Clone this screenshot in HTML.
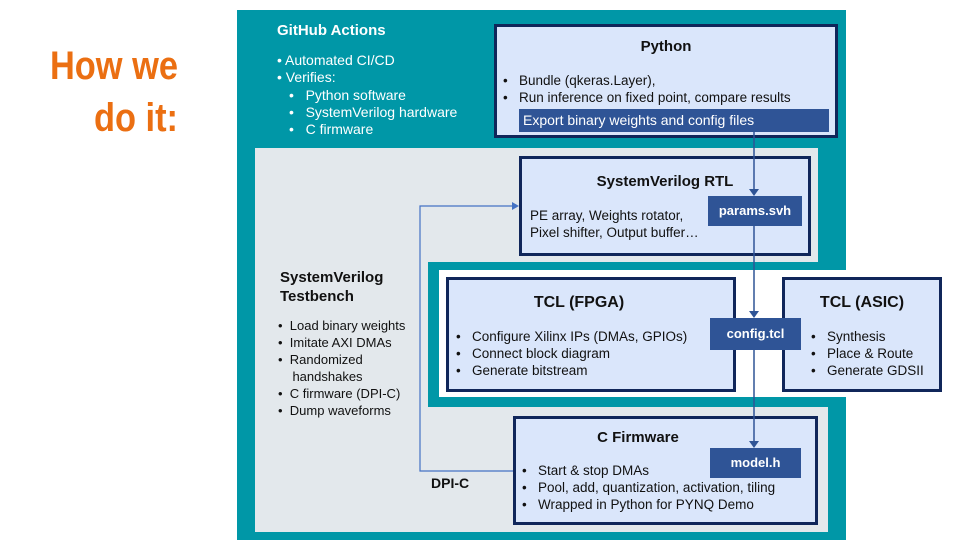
<!DOCTYPE html>
<html><head><meta charset="utf-8"><style>
body{margin:0;width:960px;height:540px;background:#fff;position:relative;overflow:hidden;font-family:"Liberation Sans",Arial,sans-serif;}
div{position:absolute;box-sizing:border-box;}
.box{background:#dae6fb;border:3px solid #10265a;}
.lab{background:#2f5496;color:#fff;font-weight:bold;font-size:13px;text-align:center;}
.t{font-size:13.5px;color:#111;line-height:17px;white-space:nowrap;}
.w{color:#fff;font-size:14px;line-height:17px;white-space:nowrap;}
.h{font-weight:bold;font-size:15px;color:#111;text-align:center;}
</style></head><body>
<div style="left:0px;top:40px;width:178px;text-align:right;color:#eb6f12;font-weight:bold;font-size:40px;line-height:52px;white-space:nowrap;transform:scaleX(0.86);transform-origin:right top;">How we<br>do it:</div>

<div style="left:237px;top:10px;width:609px;height:530px;background:#0097a7;"></div>
<div style="left:255px;top:148px;width:563px;height:384px;background:#e3e8ec;"></div>
<div style="left:255px;top:407px;width:573px;height:125px;background:#e3e8ec;"></div>
<div style="left:428px;top:262px;width:418px;height:145px;background:#0097a7;"></div>
<div style="left:439px;top:270px;width:407px;height:127px;background:#fff;"></div>

<div class="w" style="left:277px;top:22px;font-weight:bold;font-size:15px;">GitHub Actions</div>
<div class="w" style="left:277px;top:52px;">• Automated CI/CD<br>• Verifies:</div>
<div class="w" style="left:289px;top:87px;">•&nbsp;&nbsp; Python software<br>•&nbsp;&nbsp; SystemVerilog hardware<br>•&nbsp;&nbsp; C firmware</div>

<div class="box" style="left:494px;top:24px;width:344px;height:114px;"></div>
<div class="h" style="left:494px;top:38px;width:344px;">Python</div>
<div class="t" style="left:503px;top:72px;">•&nbsp;&nbsp; Bundle (qkeras.Layer),<br>•&nbsp;&nbsp; Run inference on fixed point, compare results</div>
<div style="left:519px;top:109px;width:310px;height:23px;background:#2f5496;color:#fff;font-size:14px;line-height:23px;padding-left:4px;">Export binary weights and config files</div>

<div class="box" style="left:519px;top:156px;width:292px;height:100px;"></div>
<div class="h" style="left:519px;top:173px;width:292px;">SystemVerilog RTL</div>
<div class="t" style="left:530px;top:207px;">PE array, Weights rotator,<br>Pixel shifter, Output buffer…</div>

<div style="left:280px;top:268px;font-weight:bold;font-size:15px;line-height:19px;color:#111;">SystemVerilog<br>Testbench</div>
<div class="t" style="left:278px;top:317px;font-size:13px;">•&nbsp; Load binary weights<br>•&nbsp; Imitate AXI DMAs<br>•&nbsp; Randomized<br>&nbsp;&nbsp;&nbsp; handshakes<br>•&nbsp; C firmware (DPI-C)<br>•&nbsp; Dump waveforms</div>

<div class="box" style="left:446px;top:277px;width:290px;height:115px;"></div>
<div class="h" style="left:446px;top:294px;width:266px;font-size:16px;">TCL (FPGA)</div>
<div class="t" style="left:456px;top:328px;">•&nbsp;&nbsp; Configure Xilinx IPs (DMAs, GPIOs)<br>•&nbsp;&nbsp; Connect block diagram<br>•&nbsp;&nbsp; Generate bitstream</div>

<div class="box" style="left:782px;top:277px;width:160px;height:115px;"></div>
<div class="h" style="left:782px;top:294px;width:160px;font-size:16px;">TCL (ASIC)</div>
<div class="t" style="left:811px;top:328px;">•&nbsp;&nbsp; Synthesis<br>•&nbsp;&nbsp; Place &amp; Route<br>•&nbsp;&nbsp; Generate GDSII</div>

<div class="box" style="left:513px;top:416px;width:305px;height:109px;"></div>
<div class="h" style="left:513px;top:429px;width:250px;">C Firmware</div>
<div class="t" style="left:522px;top:462px;">•&nbsp;&nbsp; Start &amp; stop DMAs<br>•&nbsp;&nbsp; Pool, add, quantization, activation, tiling<br>•&nbsp;&nbsp; Wrapped in Python for PYNQ Demo</div>
<div style="left:431px;top:475px;font-weight:bold;font-size:14px;color:#111;">DPI-C</div>

<svg width="960" height="540" style="position:absolute;left:0;top:0;">
<g stroke="#2f5496" stroke-width="1.5" fill="none">
<line x1="754" y1="132" x2="754" y2="190"/>
<line x1="754" y1="226" x2="754" y2="312"/>
<line x1="754" y1="350" x2="754" y2="442"/>
</g>
<g fill="#2f5496">
<polygon points="749,189 759,189 754,196"/>
<polygon points="749,311 759,311 754,318"/>
<polygon points="749,441 759,441 754,448"/>
</g>
<polyline points="513,471 420,471 420,206 512,206" stroke="#4472c4" stroke-width="1.2" fill="none"/>
<polygon points="512,202 519,206 512,210" fill="#4472c4"/>
</svg>

<div class="lab" style="left:708px;top:196px;width:94px;height:30px;line-height:30px;">params.svh</div>
<div class="lab" style="left:710px;top:318px;width:91px;height:32px;line-height:32px;">config.tcl</div>
<div class="lab" style="left:710px;top:448px;width:91px;height:30px;line-height:30px;">model.h</div>
</body></html>
